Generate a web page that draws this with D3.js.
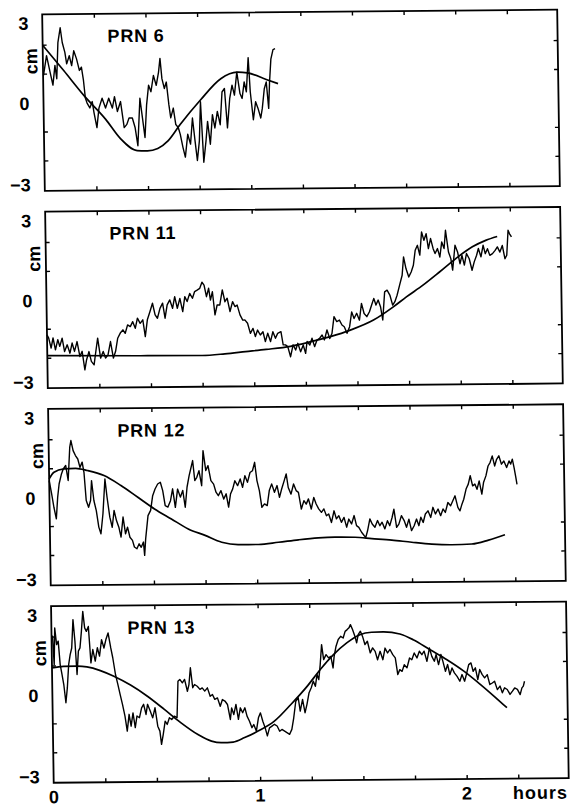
<!DOCTYPE html>
<html>
<head>
<meta charset="utf-8">
<script src="https://cdnjs.cloudflare.com/ajax/libs/d3/7.8.5/d3.min.js"></script>
<style>
  body { margin: 0; background: #fff; }
  text { font-family: 'Liberation Sans', Arial, sans-serif; font-weight: bold; fill: #000; font-size: 18px; }
</style>
</head>
<body>
<svg id="chart" width="582" height="808"></svg>
<script>

// THINGS TO DRAW THE FOUR SATELLITE RESIDUAL PANELS

var satellites = ['PRN 6', 'PRN 11', 'PRN 12', 'PRN 13'];
var hourLabels = [0, 1, 2];
var cmLabels = [3, 0, -3];
var quarterHourTicks = [0.25, 0.5, 0.75, 1, 1.25, 1.5, 1.75, 2, 2.25];
var cmTicks = [-2, -1, 1, 2];

// [hours, cm]
var prn6Residuals = [[0.002,0.94],[0.018,1.62],[0.034,1.05],[0.047,0.60],[0.058,1.28],[0.066,0.82],[0.074,2.07],[0.086,2.58],[0.095,2.07],[0.107,1.73],[0.115,1.33],[0.128,1.61],[0.139,1.27],[0.150,1.78],[0.163,1.50],[0.176,1.10],[0.186,1.21],[0.195,0.76],[0.203,0.14],[0.211,-0.03],[0.224,-0.20],[0.236,0.02],[0.244,-0.37],[0.257,-0.88],[0.268,-0.21],[0.284,0.13],[0.300,-0.21],[0.316,0.13],[0.333,-0.21],[0.344,0.18],[0.357,-0.33],[0.373,0.01],[0.389,-0.89],[0.402,-0.78],[0.413,-0.56],[0.429,-0.56],[0.442,-0.90],[0.454,-1.52],[0.467,0.12],[0.478,-0.56],[0.489,-1.24],[0.499,-0.11],[0.510,0.57],[0.521,0.34],[0.534,0.90],[0.547,0.56],[0.559,1.01],[0.567,1.49],[0.575,0.79],[0.586,0.45],[0.596,0.67],[0.607,-0.12],[0.615,-0.57],[0.628,-0.23],[0.639,-0.80],[0.651,-0.91],[0.660,-1.14],[0.672,-1.59],[0.683,-1.93],[0.696,-1.14],[0.709,-1.48],[0.720,-0.58],[0.731,-1.37],[0.741,-2.05],[0.752,-1.37],[0.760,-0.02],[0.772,-2.11],[0.784,-1.38],[0.793,-0.70],[0.805,-1.49],[0.817,-0.47],[0.828,-0.93],[0.841,-0.36],[0.854,-0.82],[0.865,0.31],[0.877,0.43],[0.889,-0.93],[0.902,0.09],[0.914,0.54],[0.925,0.20],[0.938,0.99],[0.952,0.25],[0.962,0.08],[0.973,0.65],[0.983,0.31],[0.994,1.49],[1.002,0.30],[1.015,-0.66],[1.027,-0.04],[1.038,-0.26],[1.051,-0.60],[1.059,-0.27],[1.070,0.41],[1.080,0.64],[1.090,-0.27],[1.096,0.64],[1.104,1.43],[1.115,1.76],[1.125,1.79]];
var prn6Model = [[0,1.98],[0.1,1.1],[0.2,0.2],[0.3,-0.6],[0.37,-1.27],[0.45,-1.69],[0.5,-1.70],[0.55,-1.62],[0.6,-1.36],[0.66,-0.8],[0.76,0.04],[0.86,0.77],[0.94,0.99],[0.99,0.96],[1.08,0.73],[1.137,0.58]];

var prn11Residuals = [[0,-1.21],[0.008,-1.32],[0.019,-1.67],[0.029,-1.32],[0.040,-1.73],[0.052,-1.38],[0.061,-1.61],[0.073,-1.33],[0.084,-1.79],[0.097,-1.56],[0.110,-1.85],[0.121,-1.50],[0.132,-1.79],[0.145,-1.45],[0.158,-1.97],[0.169,-1.79],[0.181,-2.43],[0.190,-2.08],[0.202,-1.80],[0.213,-2.14],[0.226,-2.26],[0.234,-1.86],[0.245,-1.34],[0.258,-2.03],[0.271,-1.80],[0.282,-2.03],[0.294,-1.92],[0.307,-1.46],[0.320,-2.03],[0.331,-1.80],[0.342,-1.35],[0.355,-1.17],[0.368,-1.06],[0.379,-1.18],[0.391,-0.89],[0.404,-0.95],[0.416,-0.78],[0.428,-1.01],[0.439,-0.66],[0.452,-0.84],[0.465,-0.72],[0.476,-1.30],[0.487,-0.72],[0.500,-0.44],[0.513,-0.15],[0.525,-0.55],[0.536,-0.67],[0.549,-0.33],[0.562,-0.15],[0.573,-0.67],[0.584,-0.21],[0.597,-0.04],[0.610,-0.33],[0.621,0.07],[0.633,-0.33],[0.646,0.01],[0.659,-0.45],[0.670,0.07],[0.681,-0.10],[0.694,0.18],[0.707,0.01],[0.718,0.24],[0.730,0.29],[0.743,0.35],[0.754,0.56],[0.764,0.46],[0.775,0.06],[0.786,0.35],[0.794,-0.06],[0.804,0.23],[0.815,-0.57],[0.826,-0.23],[0.839,-0.23],[0.852,0.29],[0.864,-0.12],[0.875,0.00],[0.888,-0.46],[0.901,-0.12],[0.912,-0.29],[0.923,-0.24],[0.936,-0.58],[0.949,-0.76],[0.960,-0.76],[0.972,-0.87],[0.985,-1.22],[0.998,-1.05],[1.009,-1.33],[1.020,-1.11],[1.033,-1.28],[1.046,-1.17],[1.057,-1.51],[1.069,-1.22],[1.082,-1.51],[1.094,-1.17],[1.106,-1.40],[1.117,-1.23],[1.133,-1.17],[1.143,-1.63],[1.154,-1.63],[1.165,-1.69],[1.178,-2.04],[1.191,-1.63],[1.203,-1.81],[1.214,-1.58],[1.227,-1.87],[1.240,-1.64],[1.251,-1.93],[1.259,-1.52],[1.272,-1.64],[1.283,-1.41],[1.295,-1.70],[1.307,-1.47],[1.320,-1.41],[1.332,-1.30],[1.343,-1.47],[1.356,-1.13],[1.369,-1.42],[1.380,-1.25],[1.391,-0.67],[1.404,-0.84],[1.417,-0.79],[1.429,-0.96],[1.440,-1.02],[1.453,-1.25],[1.466,-1.02],[1.477,-0.51],[1.488,-0.74],[1.501,-0.56],[1.514,-0.80],[1.525,-0.22],[1.537,-0.57],[1.550,-0.68],[1.563,-0.51],[1.574,-0.28],[1.585,-0.05],[1.595,-0.28],[1.606,-0.11],[1.617,-0.34],[1.627,-0.80],[1.638,0.17],[1.650,0.23],[1.663,0.06],[1.676,-0.29],[1.687,-0.17],[1.698,0.05],[1.711,0.40],[1.724,0.74],[1.732,1.37],[1.743,0.97],[1.756,0.68],[1.768,0.85],[1.779,1.08],[1.789,1.60],[1.800,1.77],[1.811,1.43],[1.821,2.23],[1.832,1.94],[1.843,2.17],[1.853,1.65],[1.864,2.00],[1.876,1.65],[1.885,1.48],[1.897,1.65],[1.908,1.36],[1.918,1.88],[1.929,1.65],[1.937,2.28],[1.950,1.53],[1.961,1.30],[1.969,0.90],[1.982,1.76],[1.994,1.53],[2.005,1.12],[2.015,1.41],[2.026,1.07],[2.037,1.47],[2.050,1.29],[2.063,0.89],[2.074,1.18],[2.086,1.41],[2.095,1.64],[2.107,1.35],[2.118,1.75],[2.128,1.46],[2.139,1.63],[2.150,1.40],[2.163,1.46],[2.176,1.57],[2.187,1.69],[2.199,1.51],[2.211,1.74],[2.223,1.28],[2.232,1.40],[2.240,2.26],[2.247,2.14],[2.256,2.03]];
var prn11Model = [[0,-1.93],[0.452,-1.96],[0.75,-1.97],[0.86,-1.92],[0.96,-1.85],[1.06,-1.78],[1.178,-1.68],[1.259,-1.56],[1.372,-1.36],[1.469,-1.14],[1.582,-0.80],[1.679,-0.35],[1.743,-0.01],[1.824,0.39],[1.905,0.84],[1.985,1.30],[2.066,1.70],[2.131,1.92],[2.187,2.05]];

var prn12Residuals = [[0,0.57],[0.011,0.11],[0.021,-0.35],[0.032,-0.75],[0.040,0.00],[0.048,0.46],[0.060,0.80],[0.069,0.97],[0.081,1.09],[0.092,0.57],[0.102,1.72],[0.108,1.95],[0.118,1.60],[0.129,1.43],[0.140,1.31],[0.150,1.02],[0.161,1.20],[0.169,0.85],[0.178,-0.13],[0.189,-0.36],[0.199,-0.13],[0.205,0.56],[0.215,-0.13],[0.226,-0.48],[0.237,-1.05],[0.247,-1.28],[0.258,-0.59],[0.270,0.61],[0.279,-0.02],[0.291,-0.71],[0.302,-1.06],[0.312,-0.48],[0.323,-0.83],[0.334,-1.06],[0.344,-1.40],[0.355,-0.71],[0.366,-1.29],[0.376,-1.06],[0.387,-1.41],[0.399,-1.52],[0.408,-1.75],[0.420,-1.81],[0.431,-1.64],[0.441,-1.76],[0.452,-1.58],[0.457,-2.04],[0.463,-1.47],[0.476,-0.67],[0.489,-0.49],[0.500,0.02],[0.512,0.25],[0.525,0.42],[0.538,0.48],[0.549,0.19],[0.560,-0.33],[0.573,-0.38],[0.586,-0.16],[0.597,0.25],[0.609,-0.39],[0.621,0.24],[0.634,-0.04],[0.646,0.19],[0.657,-0.39],[0.667,0.30],[0.678,0.70],[0.686,0.93],[0.696,1.22],[0.705,0.53],[0.715,0.64],[0.726,0.87],[0.738,0.35],[0.747,1.56],[0.759,0.87],[0.770,1.04],[0.783,0.52],[0.796,0.40],[0.807,0.12],[0.818,0.00],[0.831,0.17],[0.844,-0.12],[0.856,0.06],[0.867,-0.40],[0.877,0.05],[0.888,0.23],[0.899,0.51],[0.912,0.34],[0.925,0.57],[0.936,0.28],[0.948,0.68],[0.960,0.45],[0.973,0.79],[0.985,0.85],[0.996,1.14],[1.006,0.51],[1.017,0.16],[1.028,-0.42],[1.041,-0.30],[1.054,-0.36],[1.065,0.16],[1.077,0.39],[1.090,0.10],[1.103,0.33],[1.114,-0.08],[1.125,0.21],[1.138,0.50],[1.148,0.73],[1.157,0.26],[1.170,0.03],[1.183,0.38],[1.195,0.15],[1.206,0.09],[1.219,-0.49],[1.232,-0.20],[1.243,-0.32],[1.254,-0.14],[1.267,-0.49],[1.280,-0.09],[1.291,-0.32],[1.303,-0.49],[1.316,-0.61],[1.328,-0.49],[1.340,-0.73],[1.351,-0.67],[1.364,-0.96],[1.377,-0.56],[1.388,-0.84],[1.400,-0.73],[1.412,-0.96],[1.425,-0.79],[1.437,-1.13],[1.448,-0.85],[1.461,-1.02],[1.474,-0.73],[1.485,-1.08],[1.496,-1.14],[1.509,-1.31],[1.522,-1.43],[1.529,-1.49],[1.538,-1.26],[1.550,-0.85],[1.561,-1.03],[1.574,-1.14],[1.587,-0.91],[1.598,-1.09],[1.609,-0.97],[1.622,-1.20],[1.635,-0.92],[1.646,-1.09],[1.658,-0.80],[1.667,-0.52],[1.679,-1.15],[1.690,-1.04],[1.703,-0.75],[1.716,-0.92],[1.727,-1.15],[1.739,-0.87],[1.751,-1.27],[1.764,-1.10],[1.776,-0.87],[1.787,-1.10],[1.797,-0.81],[1.808,-0.99],[1.819,-0.70],[1.832,-0.59],[1.845,-0.82],[1.856,-0.47],[1.868,-0.70],[1.881,-0.53],[1.893,-0.76],[1.905,-0.53],[1.916,-0.65],[1.929,-0.31],[1.942,-0.42],[1.953,-0.25],[1.964,-0.08],[1.977,-0.48],[1.987,-0.60],[1.997,-0.37],[2.006,-0.20],[2.018,0.15],[2.029,0.32],[2.039,0.61],[2.050,0.26],[2.061,0.32],[2.071,0.14],[2.082,0.43],[2.094,-0.03],[2.103,0.37],[2.115,0.60],[2.126,0.94],[2.136,1.06],[2.147,1.29],[2.158,0.94],[2.168,1.17],[2.179,1.29],[2.191,1.00],[2.203,1.11],[2.216,0.88],[2.228,1.11],[2.236,1.00],[2.244,1.17],[2.252,0.88],[2.260,0.53],[2.265,0.30]];
var prn12Model = [[0,0.63],[0.024,0.86],[0.073,0.97],[0.129,0.99],[0.186,0.91],[0.266,0.73],[0.347,0.38],[0.428,-0.03],[0.508,-0.44],[0.589,-0.79],[0.670,-1.14],[0.751,-1.37],[0.831,-1.61],[0.912,-1.70],[1.009,-1.70],[1.106,-1.63],[1.203,-1.55],[1.299,-1.49],[1.380,-1.47],[1.477,-1.48],[1.558,-1.53],[1.655,-1.59],[1.751,-1.67],[1.848,-1.74],[1.945,-1.77],[2.042,-1.75],[2.123,-1.62],[2.203,-1.44]];

var prn13Residuals = [[0,2.01],[0.005,2.01],[0.011,1.03],[0.016,2.30],[0.024,1.72],[0.032,1.84],[0.040,1.03],[0.048,0.69],[0.056,0.34],[0.065,-0.29],[0.073,0.23],[0.081,1.03],[0.089,1.37],[0.097,1.60],[0.105,2.58],[0.113,1.83],[0.121,0.68],[0.129,1.49],[0.137,1.60],[0.145,2.17],[0.153,2.86],[0.161,2.29],[0.169,2.17],[0.179,2.34],[0.189,1.08],[0.199,1.54],[0.210,1.14],[0.221,1.60],[0.231,1.31],[0.242,1.88],[0.253,1.59],[0.263,1.88],[0.274,2.11],[0.286,1.59],[0.295,1.25],[0.307,0.67],[0.318,0.32],[0.328,-0.02],[0.339,-0.37],[0.350,-0.77],[0.360,-1.29],[0.370,-0.71],[0.379,-1.12],[0.389,-0.66],[0.399,-1.17],[0.408,-0.77],[0.420,-0.83],[0.431,-0.49],[0.441,-0.37],[0.452,-0.72],[0.460,-0.37],[0.473,-0.61],[0.484,-0.84],[0.496,-0.49],[0.508,-1.13],[0.518,-1.30],[0.525,-1.76],[0.534,-1.41],[0.544,-0.96],[0.554,-1.07],[0.565,-0.84],[0.576,-0.90],[0.589,-0.79],[0.602,-0.84],[0.609,0.42],[0.618,0.48],[0.630,0.36],[0.641,0.48],[0.654,0.07],[0.662,0.30],[0.670,0.88],[0.680,0.19],[0.689,0.30],[0.702,0.24],[0.715,0.13],[0.726,0.18],[0.738,0.07],[0.751,0.18],[0.764,-0.11],[0.775,-0.05],[0.786,-0.22],[0.799,-0.17],[0.812,-0.46],[0.823,-0.23],[0.835,-0.28],[0.847,-0.40],[0.860,-0.92],[0.867,-0.52],[0.877,-0.75],[0.888,-0.40],[0.899,-0.92],[0.909,-0.52],[0.920,-0.69],[0.931,-0.52],[0.941,-0.81],[0.952,-0.98],[0.964,-1.21],[0.973,-1.10],[0.985,-1.33],[0.996,-0.87],[1.006,-0.70],[1.017,-0.99],[1.028,-1.22],[1.038,-1.50],[1.049,-1.22],[1.061,-1.16],[1.073,-1.10],[1.086,-1.16],[1.098,-1.34],[1.109,-1.28],[1.122,-1.34],[1.135,-1.40],[1.146,-1.45],[1.157,-1.28],[1.167,-0.88],[1.178,-0.31],[1.190,-0.19],[1.199,-0.65],[1.211,-0.25],[1.222,-0.71],[1.232,-0.42],[1.243,-0.02],[1.254,0.15],[1.264,0.38],[1.274,0.20],[1.283,0.61],[1.291,0.43],[1.299,0.95],[1.307,1.64],[1.316,1.12],[1.328,1.29],[1.340,1.18],[1.351,1.23],[1.361,0.83],[1.367,1.23],[1.377,1.58],[1.388,1.81],[1.400,1.92],[1.412,1.86],[1.422,2.09],[1.432,2.15],[1.441,2.21],[1.448,2.32],[1.458,2.15],[1.469,1.92],[1.477,1.69],[1.485,1.97],[1.496,2.09],[1.506,1.91],[1.517,1.63],[1.529,1.74],[1.542,1.34],[1.554,1.51],[1.566,1.39],[1.577,1.10],[1.590,1.39],[1.603,1.10],[1.614,1.50],[1.626,1.33],[1.638,1.45],[1.651,1.27],[1.663,1.16],[1.674,0.58],[1.684,0.75],[1.695,0.69],[1.706,0.92],[1.719,0.81],[1.732,1.15],[1.743,1.09],[1.755,1.32],[1.768,1.15],[1.780,1.38],[1.792,1.26],[1.803,1.38],[1.816,1.03],[1.829,1.49],[1.840,1.20],[1.852,1.03],[1.861,1.26],[1.872,0.91],[1.884,1.26],[1.893,1.03],[1.905,0.68],[1.916,0.91],[1.926,0.56],[1.937,0.79],[1.948,0.62],[1.961,0.50],[1.974,0.33],[1.985,0.56],[1.997,0.33],[2.006,0.56],[2.018,0.90],[2.029,0.96],[2.039,0.67],[2.050,0.79],[2.061,0.38],[2.071,0.73],[2.082,0.56],[2.094,0.44],[2.107,0.55],[2.119,0.21],[2.131,0.26],[2.142,0.32],[2.155,0.03],[2.168,0.15],[2.179,-0.08],[2.190,0.09],[2.203,0.03],[2.216,-0.14],[2.228,-0.03],[2.239,0.08],[2.252,0.03],[2.265,-0.15],[2.274,0.08],[2.281,0.14],[2.287,0.31]];
var prn13Model = [[0,0.92],[0.056,0.97],[0.121,0.97],[0.169,0.94],[0.234,0.81],[0.299,0.61],[0.379,0.30],[0.460,-0.09],[0.541,-0.55],[0.621,-1.02],[0.702,-1.43],[0.767,-1.66],[0.815,-1.72],[0.872,-1.70],[0.928,-1.55],[0.993,-1.33],[1.073,-0.99],[1.154,-0.42],[1.235,0.21],[1.299,0.78],[1.364,1.29],[1.429,1.69],[1.493,1.97],[1.550,2.05],[1.606,2.06],[1.687,1.98],[1.751,1.78],[1.832,1.43],[1.913,1.08],[1.994,0.68],[2.074,0.21],[2.139,-0.20],[2.200,-0.60]];

var residualSeries = [prn6Residuals, prn11Residuals, prn12Residuals, prn13Residuals];
var modelSeries = [prn6Model, prn11Model, prn12Model, prn13Model];

// layout
var width = 582, height = 808;
var left = 48, right = 563;
var firstTop = 12, panelStep = 197.3, panelHeight = 176.5;
var titleOffsets = [65, 64, 69, 76]; // titles in the original are not lined up

var x = d3.scaleLinear().domain([0, 2.494]).range([left, right]);
var y = d3.scaleLinear().domain([-3.05, 3.05]).range([panelHeight, 0]);

var residualLine = d3.line()
    .x((d) => { return x(d[0]) })
    .y((d) => { return y(d[1]) });

var modelLine = d3.line()
    .curve(d3.curveMonotoneX)
    .x((d) => { return x(d[0]) })
    .y((d) => { return y(d[1]) });

var svg = d3.select('#chart');
svg.append('rect').attr('width', width).attr('height', height).attr('fill', '#fff');

// the printed figure was scanned a little skewed, so lean the whole page the same way
var page = svg.append('g')
    .attr('transform', 'matrix(1,-0.009,0.015,1,-6,2.75)');

var panels = page.selectAll('g.panel')
    .data(satellites)
  .enter().append('g')
    .attr('class', 'panel')
    .attr('transform', (d, i) => { return `translate(0,${firstTop + i * panelStep})` });

panels.each(function (name, i) {
  var p = d3.select(this);

  // inward ticks on all four sides
  p.append('g')
      .attr('transform', `translate(0,${panelHeight})`)
      .call(d3.axisBottom(x).tickValues(quarterHourTicks).tickSize(-4).tickFormat(''));
  p.append('g')
      .call(d3.axisTop(x).tickValues(quarterHourTicks).tickSize(-4).tickFormat(''));
  p.append('g')
      .attr('transform', `translate(${left},0)`)
      .call(d3.axisLeft(y).tickValues(cmTicks).tickSize(-4).tickFormat(''));
  p.append('g')
      .attr('transform', `translate(${right},0)`)
      .call(d3.axisRight(y).tickValues(cmTicks).tickSize(-4).tickFormat(''));
  p.selectAll('.domain').remove();
  p.selectAll('.tick line').attr('stroke', '#000').attr('stroke-width', 1.4);

  p.append('rect')
      .attr('x', left).attr('y', 0)
      .attr('width', right - left).attr('height', panelHeight)
      .attr('fill', 'none').attr('stroke', '#000').attr('stroke-width', 1.8);

  p.append('path')
      .datum(modelSeries[i])
      .attr('d', modelLine)
      .attr('fill', 'none').attr('stroke', '#000').attr('stroke-width', 1.7);

  p.append('path')
      .datum(residualSeries[i])
      .attr('d', residualLine)
      .attr('fill', 'none').attr('stroke', '#000').attr('stroke-width', 1.4)
      .attr('stroke-linejoin', 'round');

  // y labels sit a bit inside the frame ends
  p.selectAll('text.ylab')
      .data(cmLabels)
    .enter().append('text')
      .attr('class', 'ylab')
      .attr('x', left - 14)
      .attr('y', (d) => { return Math.min(Math.max(y(d) + 1, 9), panelHeight - 6) })
      .attr('dy', '0.35em')
      .attr('text-anchor', 'end')
      .text((d) => { return d < 0 ? '\u2212' + Math.abs(d) : d });

  p.append('text')
      .attr('transform', `translate(${left - 12},47) rotate(-90)`)
      .attr('dy', '0.35em')
      .attr('text-anchor', 'middle')
      .text('cm');

  p.append('text')
      .attr('x', left + titleOffsets[i])
      .attr('y', 28.5)
      .style('letter-spacing', '0.8px')
      .text(name);
});

// hours along the bottom of the last panel
var bottom = firstTop + (satellites.length - 1) * panelStep + panelHeight;

page.selectAll('text.xlab')
    .data(hourLabels)
  .enter().append('text')
    .attr('class', 'xlab')
    .attr('x', (d) => { return x(d) })
    .attr('y', bottom + 20.5)
    .attr('text-anchor', 'middle')
    .text((d) => { return d });

page.append('text')
    .attr('x', right - 1)
    .attr('y', bottom + 20.5)
    .attr('text-anchor', 'end')
    .style('letter-spacing', '1px')
    .text('hours');

</script>
</body>
</html>
